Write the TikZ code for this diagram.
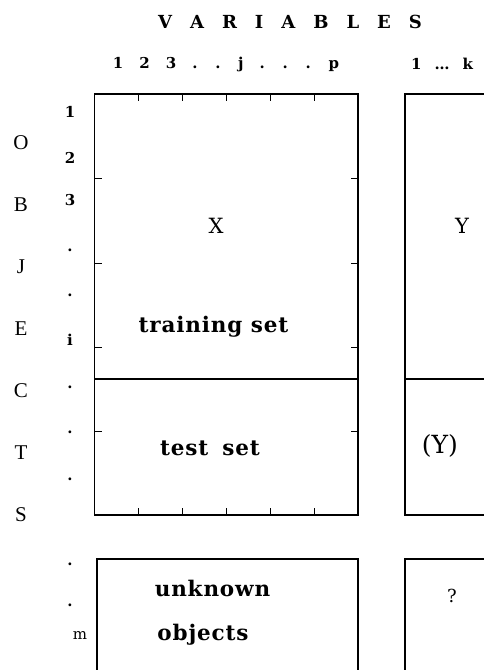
\documentclass[tikz,border=0pt]{standalone}
\usepackage{fontspec}
\setmainfont{DejaVu Serif}
\newfontfamily\lsf{Liberation Serif}
\newfontfamily\spc[LetterSpace=4]{DejaVu Serif}
\begin{document}
\begin{tikzpicture}[x=1pt,y=-1pt,line width=1.4pt,
  tk/.style={line width=1pt},
  objl/.style={font=\lsf\fontsize{21}{24}\selectfont},
  rowl/.style={font=\fontsize{15}{17}\selectfont\bfseries},
  inner/.style={font=\spc\fontsize{21.5}{24}\selectfont\bfseries},
  big/.style={font=\fontsize{21}{24}\selectfont},
  hdr/.style={font=\fontsize{15}{17}\selectfont\bfseries}]
\useasboundingbox (0,0) rectangle (484,670);
% boxes
\draw (94.5,94) rectangle (358,515);
\draw (94.5,379) -- (358,379);
\draw (495,94) -- (405,94) -- (405,515) -- (495,515);
\draw (405,379) -- (495,379);
\draw (97,690) -- (97,559) -- (358,559) -- (358,690);
\draw (495,559) -- (405,559) -- (405,690);
% ticks
\foreach \x in {138.5,182.5,226.5,270.5,314}{
  \draw[tk] (\x,94) -- ++(0,7);
  \draw[tk] (\x,515) -- ++(0,-7);}
\foreach \y in {178.5,263,347,431.5}{
  \draw[tk] (94.5,\y) -- ++(7,0);
  \draw[tk] (358,\y) -- ++(-7,0);}
% header
\node[font=\fontsize{18}{20}\selectfont\bfseries] (vars) at (290,22) {\spaceskip=18pt V A R I A B L E S};
\node[hdr] (cols) at (226,64) {\spaceskip=16pt 1 2 3 . . j . . . p};
\node[hdr] (ycols) at (442,64) {\spaceskip=13pt 1 … k};
% OBJECTS
\foreach \l [count=\i from 0] in {O,B,J,E,C,T,S}
  \node[objl] (obj\i) at (21,143+62*\i) {\l};
% row labels
\node[rowl] (r1) at (70,112) {1};
\node[rowl] (r2) at (70,158) {2};
\node[rowl] (r3) at (70,200) {3};
\node[rowl] (ra) at (70,250) {.};
\node[rowl] (rb) at (70,295) {.};
\node[rowl] (ri) at (70,340) {i};
\node[rowl] (rc) at (70,387) {.};
\node[rowl] (rd) at (70,432) {.};
\node[rowl] (re) at (70,479) {.};
\node[rowl] (rf) at (70,564) {.};
\node[rowl] (rg) at (70,605) {.};
\node[font=\fontsize{15}{17}\selectfont] (rm) at (80,635) {m};
% contents
\node[big] (X) at (216,226) {X};
\node[big] (Y) at (462,226) {Y};
\node[inner] (train) at (213.5,327) {training set};
\node[inner] (test) at (210,448) {\spaceskip=14pt test set};
\node[font=\fontsize{25}{28}\selectfont] (Yp) at (440,446) {(Y)};
\node[inner] (unk) at (212.5,588) {unknown};
\node[inner] (objs) at (203,635) {objects};
\node[font=\fontsize{18}{20}\selectfont] (q) at (452,596) {?};
\end{tikzpicture}
\end{document}
